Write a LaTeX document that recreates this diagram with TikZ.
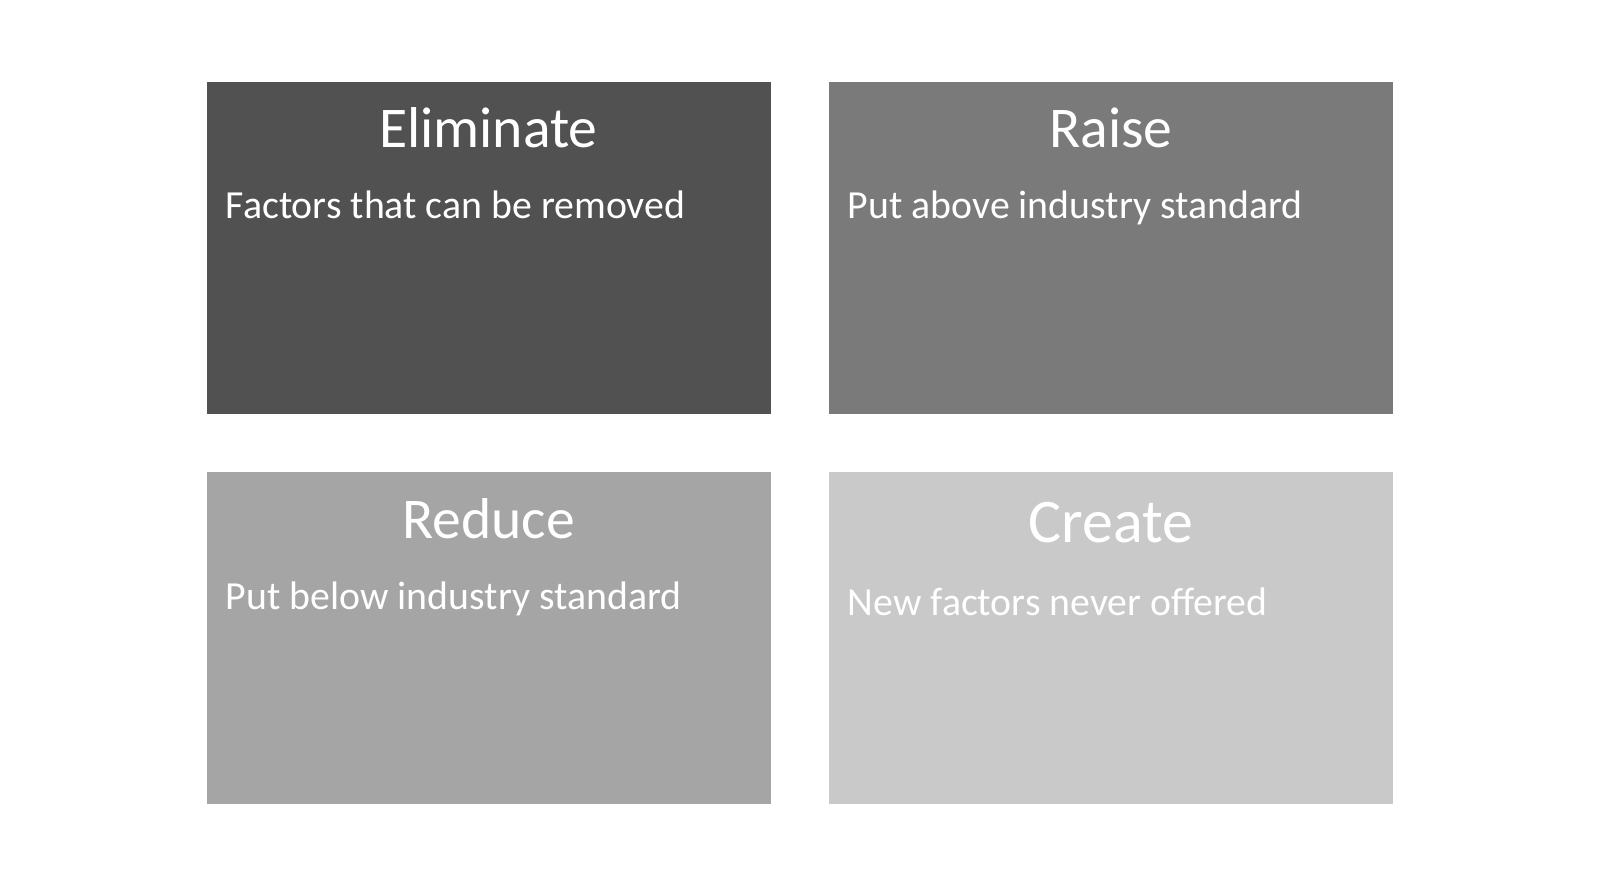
\documentclass[tikz,border=0pt]{standalone}
\usepackage{fontspec}
\setmainfont{Carlito}
\definecolor{cA}{HTML}{515151}
\definecolor{cB}{HTML}{7A7A7A}
\definecolor{cC}{HTML}{A5A5A5}
\definecolor{cD}{HTML}{C9C9C9}
\begin{document}
\begin{tikzpicture}[x=0.5pt,y=-0.5pt,
  box/.style={draw=none,rectangle,inner sep=0pt,minimum width=282pt,minimum height=166pt},
  title/.style={text=white,anchor=base,font=\fontsize{28.8}{32}\selectfont,inner sep=0pt},
  bigtitle/.style={title,font=\fontsize{31}{34}\selectfont},
  body/.style={text=white,anchor=base west,font=\fontsize{19.9}{23}\selectfont,inner sep=0pt}]
\useasboundingbox[fill=white] (0,0) rectangle (1600,887);
\node[box,fill=cA,anchor=north west] (b1) at (207,82) {};
\node[box,fill=cB,anchor=north west] (b2) at (829,82) {};
\node[box,fill=cC,anchor=north west] (b3) at (207,472) {};
\node[box,fill=cD,anchor=north west] (b4) at (829,472) {};
\node[title] (t1) at (488.5,148) {Eliminate};
\node[title] (t2) at (1111,148) {Raise};
\node[title] (t3) at (488.5,538) {Reduce};
\node[bigtitle] (t4) at (1111,542) {Create};
\node[body] (d1) at (225.5,219) {Factors that can be removed};
\node[body] (d2) at (847.5,219) {Put above industry standard};
\node[body] (d3) at (225.5,609) {Put below industry standard};
\node[body] (d4) at (847.5,615) {New factors never offered};
\end{tikzpicture}
\end{document}
